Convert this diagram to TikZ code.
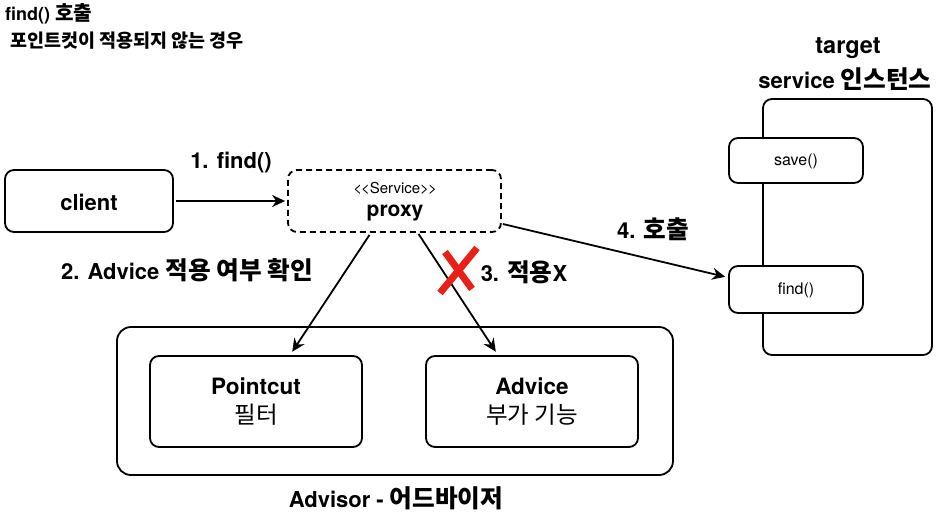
\documentclass[tikz,border=0pt]{standalone}
\usepackage{fontspec}
\setmainfont{TeX Gyre Heros}
\newfontfamily\kr{Noto Sans CJK KR}[Scale=1.12]
\usetikzlibrary{arrows.meta,calc}
\newcommand\K[1]{{\kr #1}}
\newcommand\fs[1]{\fontsize{#1}{#1}\selectfont}
\definecolor{xred}{RGB}{232,32,24}
\begin{document}
\begin{tikzpicture}[x=1pt,y=-1pt,
  box/.style={draw, line width=1.8pt, rounded corners=9pt, inner sep=0pt, fill=white},
  arr/.style={line width=1.8pt, -{Stealth[length=13pt,width=12pt]}},
  lbl/.style={inner sep=0pt, font=\fs{22}\bfseries},
  small/.style={inner sep=0pt, font=\fs{16}},
]
\useasboundingbox[fill=white] (0,0) rectangle (936,512);

% title
\node[inner sep=0pt, anchor=west, font=\fs{18}\bfseries] (title1) at (5,14) {find() \K{호출}};
\node[inner sep=0pt, anchor=west, font=\fs{16.5}\bfseries] (title2) at (10,41) {\K{포인트컷이 적용되지 않는 경우}};

% client and proxy
\node[box, minimum width=168pt, minimum height=62pt] (client) at (89,201) {};
\node[lbl] (clientt) at (89,202) {client};
\node[box, dashed, dash pattern=on 6pt off 4pt, minimum width=213pt, minimum height=62pt] (proxy) at (394.5,201) {};
\node[small, font=\fs{15}] (svc) at (395,188) {<\kern-1pt<Service>\kern-1pt>};
\node[inner sep=0pt, font=\fs{21}\bfseries] (proxyt) at (395,213) {proxy};

% advisor
\node[box, rounded corners=14pt, minimum width=556pt, minimum height=148pt] (advisor) at (395,401) {};
\node[box, minimum width=212pt, minimum height=91pt] (pointcut) at (256,401.5) {};
\node[lbl, font=\fs{22.5}\bfseries] (pct) at (256,386) {Pointcut};
\node[inner sep=0pt, font=\fs{21}] (pck) at (256,415) {\K{필터}};
\node[box, minimum width=212pt, minimum height=91pt] (advice) at (532,401.5) {};
\node[lbl, font=\fs{22.5}\bfseries] (adt) at (532,386) {Advice};
\node[inner sep=0pt, font=\fs{21}] (adk) at (532,415) {\K{부가 기능}};
\node[lbl] (advisort) at (396,498) {Advisor - \K{어드바이저}};

% target
\node[lbl, font=\fs{23.5}\bfseries] (tgt1) at (848,48) {target};
\node[lbl] (tgt2) at (845,79) {service \K{인스턴스}};
\node[box, minimum width=169pt, minimum height=256pt] (target) at (847.5,227) {};
\node[box, minimum width=134pt, minimum height=45pt] (save) at (796,160.5) {};
\node[small] (savet) at (796,161) {save()};
\node[box, minimum width=134pt, minimum height=47pt] (findm) at (796,289.5) {};
\node[small] (findt) at (796,290) {find()};

% labels
\node[lbl] (l1) at (231,162) {1. find()};
\node[lbl] (l2) at (187,270) {2. Advice \K{적용 여부 확인}};
\node[lbl] (l3) at (524,272) {3. \K{적용}X};
\node[lbl] (l4) at (653,229) {4. \K{호출}};

% arrows
\draw[arr, shorten <=2pt, shorten >=2pt] (client.east) -- (proxy.west);
\draw[arr, shorten >=4pt] ($(proxy.south)+(-25,2)$) -- ($(pointcut.north)+(34,0)$);
\draw[arr, shorten >=4pt] ($(proxy.south)+(24,1)$) -- ($(advice.north)+(-34,0)$);
\draw[arr, shorten >=3pt] ($(proxy.east)+(1,23)$) -- ($(findm.west)+(0,-12)$);

% red cross
\draw[xred, line width=7pt] (445,252) -- (472,289);
\draw[xred, line width=7pt] (477,248) -- (440,293);
\end{tikzpicture}
\end{document}
